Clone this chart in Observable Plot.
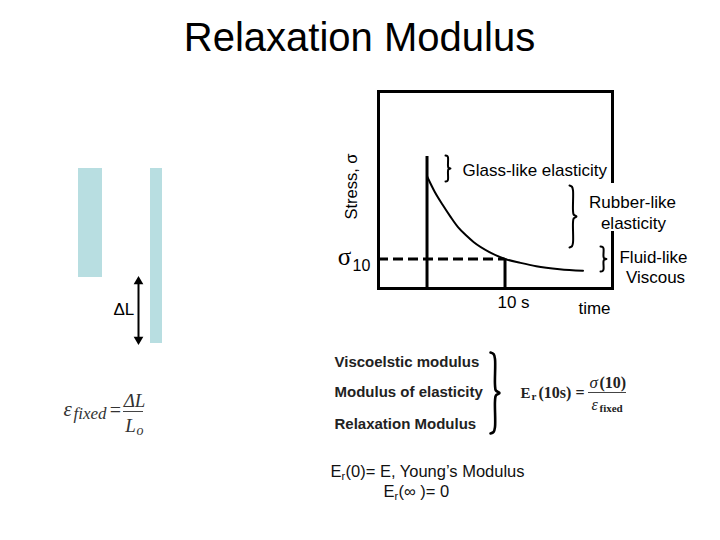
<!DOCTYPE html>
<html>
<head>
<meta charset="utf-8">
<script src="https://cdn.jsdelivr.net/npm/d3@7"></script>
<script src="https://cdn.jsdelivr.net/npm/@observablehq/plot@0.6"></script>
<style>
  html, body { margin: 0; padding: 0; background: #fff; }
  #wrap { position: relative; width: 720px; height: 540px; overflow: hidden; background: #fff; }
  #wrap svg { position: absolute; left: 0; top: 0; }
</style>
</head>
<body>
<div id="wrap"></div>
<script>
// ---- chart values ----
const times  = [0, 1, 2, 3, 4, 5, 6, 8, 10, 12, 14, 17, 20];                 // time, s
const stress = [57, 49, 42.5, 36.5, 31, 27, 23.5, 18.5, 15, 13, 11.3, 9.8, 9]; // relaxing stress
const loadStress = [67];      // height of the step at t = 0
const readTime = [10];        // the 10 s reading
const sigma10 = [15];         // stress at 10 s
const timeDomain = [-6.22, 23.78];
const stressDomain = [0, 100];
const regionLabels = ["Glass-like elasticity", "Rubber-like", "elasticity", "Fluid-like", "Viscous"];
const moduliNames = ["Viscoelstic modulus", "Modulus of elasticity", "Relaxation Modulus"];

const SANS = "Liberation Sans, Arial, sans-serif";
const SERIF = "Liberation Serif, Times New Roman, serif";

const curve = times.map((t, i) => ({t, s: stress[i]}));

// ---- main chart ----
const chart = Plot.plot({
  width: 720, height: 540,
  marginLeft: 378, marginRight: 108, marginTop: 91, marginBottom: 252,
  x: {domain: timeDomain, axis: null},
  y: {domain: stressDomain, axis: null},
  style: "background: transparent; overflow: visible;",
  marks: [
    Plot.ruleY(sigma10, {x1: timeDomain[0], x2: readTime[0], stroke: "black", strokeWidth: 3, strokeDasharray: "10,5"}),
    Plot.ruleX([0], {y1: 0, y2: loadStress[0], stroke: "black", strokeWidth: 3}),
    Plot.ruleX(readTime, {y1: 0, y2: sigma10[0], stroke: "black", strokeWidth: 3}),
    Plot.line(curve, {x: "t", y: "s", curve: "monotone-x", stroke: "black", strokeWidth: 2}),
    Plot.frame({stroke: "black", strokeWidth: 3})
  ]
});

// ---- annotation layer (page coordinates) ----
const braceShape = [[0,0],[0.35,0.02],[0.5,0.08],[0.5,0.40],[0.6,0.47],[1,0.5],[0.6,0.53],[0.5,0.60],[0.5,0.92],[0.35,0.98],[0,1]];
const braces = [
  {id: "glass", x: 445, w: 5, y1: 155, y2: 181, sw: 2},
  {id: "rubber", x: 569, w: 7, y1: 185, y2: 247, sw: 2},
  {id: "fluid", x: 600, w: 6, y1: 246, y2: 271, sw: 2},
  {id: "moduli", x: 490, w: 9, y1: 352, y2: 433, sw: 2.6}
];
const braceMarks = braces.map(b => Plot.line(
  braceShape.map(([u, v]) => ({x: b.x + u * b.w, y: b.y1 + v * (b.y2 - b.y1)})),
  {x: "x", y: "y", curve: "catmull-rom", stroke: "black", strokeWidth: b.sw}
));

const texts = [
  {t: "Relaxation Modulus", x: 359, y: 50, a: "middle", s: 40},
  {t: "Stress, σ", x: 351, y: 186, a: "middle", s: 16.5, rot: -90, la: "middle"},
  {t: regionLabels[0], x: 462, y: 175, a: "start", s: 17},
  {t: regionLabels[1], x: 632, y: 207, a: "middle", s: 17},
  {t: regionLabels[2], x: 633, y: 228, a: "middle", s: 17},
  {t: regionLabels[3], x: 653, y: 262, a: "middle", s: 17},
  {t: regionLabels[4], x: 655, y: 282, a: "middle", s: 17},
  {t: "time", x: 594, y: 313, a: "middle", s: 17},
  {t: "10 s", x: 513, y: 307, a: "middle", s: 17},
  {t: "σ", x: 344, y: 264, a: "middle", s: 25, f: SERIF},
  {t: "10", x: 352, y: 270, a: "start", s: 16},
  {t: "ΔL", x: 113, y: 314, a: "start", s: 17},
  // strain formula
  {t: "ε", x: 63, y: 415, a: "start", s: 21, f: SERIF, st: "italic", c: "#333"},
  {t: "fixed", x: 73, y: 418, a: "start", s: 17, f: SERIF, st: "italic", c: "#333"},
  {t: "=", x: 115, y: 416, a: "middle", s: 20, f: SERIF, c: "#333"},
  {t: "ΔL", x: 134, y: 406, a: "middle", s: 19, f: SERIF, st: "italic", c: "#333"},
  {t: "L", x: 130, y: 431, a: "middle", s: 19, f: SERIF, st: "italic", c: "#333"},
  {t: "o", x: 136, y: 434, a: "start", s: 14, f: SERIF, st: "italic", c: "#333"},
  // moduli names
  {t: moduliNames[0], x: 334, y: 366, a: "start", s: 15, w: "bold", c: "#222"},
  {t: moduliNames[1], x: 334, y: 396, a: "start", s: 15, w: "bold", c: "#222"},
  {t: moduliNames[2], x: 334, y: 428, a: "start", s: 15, w: "bold", c: "#222"},
  // Er(10s) formula
  {t: "E", x: 520, y: 397, a: "start", s: 15, f: SERIF, w: "bold", c: "#222"},
  {t: "r", x: 531, y: 399, a: "start", s: 11, f: SERIF, w: "bold", c: "#222"},
  {t: "(10s) =", x: 538, y: 397, a: "start", s: 16, f: SERIF, w: "bold", c: "#222"},
  {t: "σ", x: 589, y: 387, a: "start", s: 17, f: SERIF, st: "italic", c: "#222"},
  {t: "(10)", x: 599, y: 387, a: "start", s: 16, f: SERIF, w: "bold", c: "#222"},
  {t: "ε", x: 591, y: 409, a: "start", s: 16, f: SERIF, st: "italic", c: "#222"},
  {t: "fixed", x: 599, y: 411, a: "start", s: 11, f: SERIF, w: "bold", c: "#222"},
  // Young's modulus lines
  {t: "E", x: 330, y: 476, a: "start", s: 16.5, c: "#111"},
  {t: "r", x: 341, y: 479, a: "start", s: 11, c: "#111"},
  {t: "(0)= E, Young’s Modulus", x: 345, y: 476, a: "start", s: 16.5, c: "#111"},
  {t: "E", x: 383, y: 496, a: "start", s: 16.5, c: "#111"},
  {t: "r", x: 394, y: 499, a: "start", s: 11, c: "#111"},
  {t: "(∞ )= 0", x: 398, y: 496, a: "start", s: 16.5, c: "#111"}
];
const textMarks = texts.map(d => Plot.text([d], {
  x: "x", y: "y", text: "t",
  textAnchor: d.a, lineAnchor: d.la || "bottom",
  fontSize: d.s, fontFamily: d.f || SANS,
  fontWeight: d.w || "normal", fontStyle: d.st || "normal",
  fill: d.c || "black", rotate: d.rot || 0
}));

const blocks = [
  {x1: 78, x2: 102, y1: 168, y2: 277},
  {x1: 150, x2: 162, y1: 168, y2: 343}
];
const mask = [{x1: 605, x2: 619, y1: 183, y2: 231}];
const fractionBars = [
  {x1: 123, x2: 143, y: 411, c: "#444", sw: 1},
  {x1: 588, x2: 626, y: 392, c: "#444", sw: 1}
];
const arrowShaft = [{x: 138, y1: 282, y2: 338}];
const arrowHeads = [
  {x: 138, y: 281, r: 0},
  {x: 138, y: 339, r: 180}
];

const overlay = Plot.plot({
  width: 720, height: 540, margin: 0,
  x: {domain: [0, 720], range: [0, 720], axis: null},
  y: {domain: [0, 540], range: [0, 540], axis: null},
  style: "background: transparent; overflow: visible;",
  marks: [
    Plot.rect(mask, {x1: "x1", x2: "x2", y1: "y1", y2: "y2", fill: "white"}),
    Plot.rect(blocks, {x1: "x1", x2: "x2", y1: "y1", y2: "y2", fill: "#b8dee1"}),
    Plot.link(arrowShaft, {x1: "x", x2: "x", y1: "y1", y2: "y2", stroke: "black", strokeWidth: 2}),
    Plot.dot(arrowHeads, {x: "x", y: "y", rotate: "r", symbol: "triangle", r: 3.6, fill: "black", stroke: "none"}),
    ...fractionBars.map(b => Plot.ruleY([b], {y: "y", x1: "x1", x2: "x2", stroke: b.c, strokeWidth: b.sw})),
    ...braceMarks,
    ...textMarks
  ]
});

const wrap = document.getElementById("wrap");
wrap.appendChild(chart);
wrap.appendChild(overlay);
</script>
</body>
</html>
